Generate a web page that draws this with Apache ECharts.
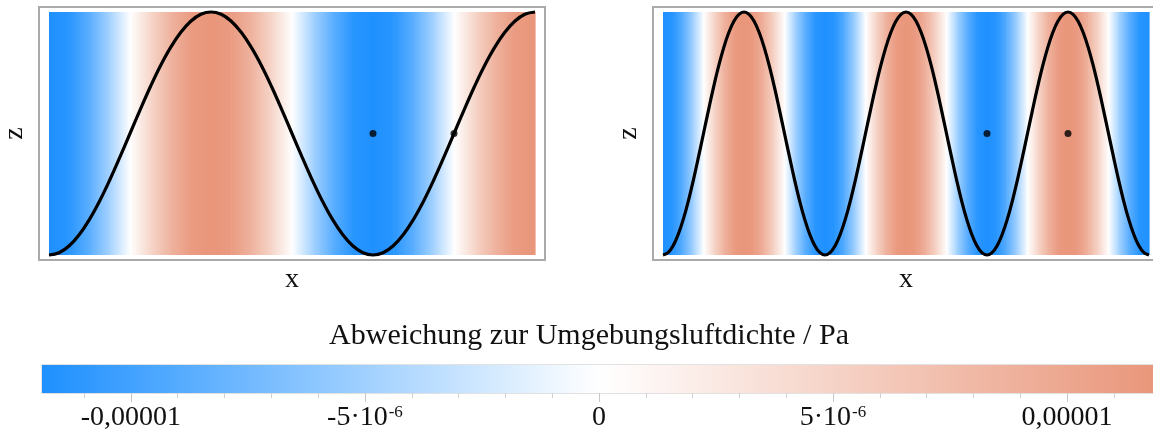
<!DOCTYPE html>
<html>
<head>
<meta charset="utf-8">
<script src="https://cdn.jsdelivr.net/npm/echarts@6/dist/echarts.min.js"></script>
<style>
  html, body { margin: 0; padding: 0; background: #fff; }
  #chart { width: 1153px; height: 435px; }
</style>
</head>
<body>
<div id="chart"></div>
<script>
// ---------------- DATA ----------------
// x is measured in wavelengths
const curveStep = 1 / 32;   // spacing of curve samples
const fieldStep = 1 / 16;   // spacing of density samples

// Left panel: displacement curve (normalised z)
const curveLeft = [-1, -0.981, -0.924, -0.831, -0.707, -0.556, -0.383, -0.195, 0, 0.195, 0.383, 0.556, 0.707, 0.831, 0.924, 0.981,
  1, 0.981, 0.924, 0.831, 0.707, 0.556, 0.383, 0.195, 0, -0.195, -0.383, -0.556, -0.707, -0.831, -0.924, -0.981,
  -1, -0.981, -0.924, -0.831, -0.707, -0.556, -0.383, -0.195, 0, 0.195, 0.383, 0.556, 0.707, 0.831, 0.924, 0.981, 1];
// Left panel: air density deviation (x 1e-6 Pa)
const fieldLeft = [-12.2, -11.3, -8.6, -4.7, 0, 4.7, 8.6, 11.3, 12.2, 11.3, 8.6, 4.7, 0,
  -4.7, -8.6, -11.3, -12.2, -11.3, -8.6, -4.7, 0, 4.7, 8.6, 11.3, 12.2];
const dotsLeft = [[1, 0], [1.25, 0]];

// Right panel
const curveRight = [-1, -0.981, -0.924, -0.831, -0.707, -0.556, -0.383, -0.195, 0, 0.195, 0.383, 0.556, 0.707, 0.831, 0.924, 0.981,
  1, 0.981, 0.924, 0.831, 0.707, 0.556, 0.383, 0.195, 0, -0.195, -0.383, -0.556, -0.707, -0.831, -0.924, -0.981,
  -1, -0.981, -0.924, -0.831, -0.707, -0.556, -0.383, -0.195, 0, 0.195, 0.383, 0.556, 0.707, 0.831, 0.924, 0.981,
  1, 0.981, 0.924, 0.831, 0.707, 0.556, 0.383, 0.195, 0, -0.195, -0.383, -0.556, -0.707, -0.831, -0.924, -0.981,
  -1, -0.981, -0.924, -0.831, -0.707, -0.556, -0.383, -0.195, 0, 0.195, 0.383, 0.556, 0.707, 0.831, 0.924, 0.981,
  1, 0.981, 0.924, 0.831, 0.707, 0.556, 0.383, 0.195, 0, -0.195, -0.383, -0.556, -0.707, -0.831, -0.924, -0.981, -1];
const fieldRight = [-12.2, -11.3, -8.6, -4.7, 0, 4.7, 8.6, 11.3, 12.2, 11.3, 8.6, 4.7, 0, -4.7, -8.6, -11.3,
  -12.2, -11.3, -8.6, -4.7, 0, 4.7, 8.6, 11.3, 12.2, 11.3, 8.6, 4.7, 0, -4.7, -8.6, -11.3,
  -12.2, -11.3, -8.6, -4.7, 0, 4.7, 8.6, 11.3, 12.2, 11.3, 8.6, 4.7, 0, -4.7, -8.6, -11.3, -12.2];
const dotsRight = [[2, 0], [2.5, 0]];

// Colour bar (values in 1e-6 Pa)
const colorMin = -11.9;
const colorMax = 11.9;
const majorTicks = [-10, -5, 0, 5, 10];
const majorTickBase = ['-0,00001', '-5·10', '0', '5·10', '0,00001'];
const majorTickExp = ['', '-6', '', '-6', ''];
const minorTicks = [-11, -9, -8, -7, -6, -4, -3, -2, -1, 1, 2, 3, 4, 6, 7, 8, 9, 11];
const colorbarTitle = 'Abweichung zur Umgebungsluftdichte / Pa';

// ---------------- STYLE / HELPERS ----------------
const colorStops = [
  { v: colorMin, c: [30, 144, 255] },
  { v: 0, c: [255, 255, 255] },
  { v: colorMax, c: [233, 150, 122] }
];
function colorOf(v) {
  v = Math.max(colorMin, Math.min(colorMax, v));
  for (let i = 0; i < colorStops.length - 1; i++) {
    const a = colorStops[i], b = colorStops[i + 1];
    if (v <= b.v) {
      const t = (v - a.v) / (b.v - a.v);
      const c = a.c.map((ca, k) => Math.round(ca + (b.c[k] - ca) * t));
      return 'rgb(' + c.join(',') + ')';
    }
  }
  return 'rgb(' + colorStops[colorStops.length - 1].c.join(',') + ')';
}

function lineData(vals, step) { return vals.map((v, i) => [i * step, v]); }
function segData(vals, step) {
  const out = [];
  for (let i = 0; i < vals.length - 1; i++) out.push([i * step, (i + 1) * step, vals[i], vals[i + 1]]);
  return out;
}
function stripRender(yTop, yBot) {
  return function (params, api) {
    const p0 = api.coord([api.value(0), yTop]);
    const p1 = api.coord([api.value(1), yBot]);
    return {
      type: 'rect',
      shape: { x: p0[0], y: p0[1], width: p1[0] - p0[0] + 0.6, height: p1[1] - p0[1] },
      style: {
        fill: new echarts.graphic.LinearGradient(0, 0, 1, 0, [
          { offset: 0, color: colorOf(api.value(2)) },
          { offset: 1, color: colorOf(api.value(3)) }
        ])
      }
    };
  };
}

const serif = 'Liberation Serif';
const txt = { fontFamily: serif, fontSize: 28, color: '#111' };

// layout: plotted region 486 x 243 px inside a 506 x 253 frame
const padX = 10, padY = 5, innerW = 486, innerH = 243;
const leftSpan = 1.5, rightSpan = 3;
const xPadL = padX / innerW * leftSpan, xPadR = padX / innerW * rightSpan;
const yPad = padY / innerH * 2;

function panelX(grid, span, pad) {
  return {
    type: 'value', gridIndex: grid, min: -pad, max: span + pad,
    name: 'x', nameLocation: 'middle', nameGap: 6, nameTextStyle: txt,
    axisLine: { show: false }, axisTick: { show: false }, axisLabel: { show: false }, splitLine: { show: false }
  };
}
function panelY(grid) {
  return {
    type: 'value', gridIndex: grid, min: -1 - yPad, max: 1 + yPad,
    name: 'z', nameLocation: 'middle', nameGap: 10, nameTextStyle: txt,
    axisLine: { show: false }, axisTick: { show: false }, axisLabel: { show: false }, splitLine: { show: false }
  };
}

const chart = echarts.init(document.getElementById('chart'), null, { renderer: 'canvas' });
chart.setOption({
  animation: false,
  title: {
    text: colorbarTitle, left: 584, top: 316, textAlign: 'center',
    textStyle: { fontFamily: serif, fontSize: 30, fontWeight: 'normal', color: '#111' }
  },
  grid: [
    { left: 39, top: 7, width: 506, height: 253, show: true, borderColor: '#aaaaaa', borderWidth: 2,
      containLabel: false, outerBoundsMode: 'none' },
    { left: 653, top: 7, width: 506, height: 253, show: true, borderColor: '#aaaaaa', borderWidth: 2,
      containLabel: false, outerBoundsMode: 'none' },
    { left: 42, top: 365, width: 1114, height: 28, show: true, borderColor: '#c4c4c4', borderWidth: 1,
      containLabel: false, outerBoundsMode: 'none' }
  ],
  xAxis: [
    panelX(0, leftSpan, xPadL),
    panelX(1, rightSpan, xPadR),
    {
      type: 'value', gridIndex: 2, min: colorMin, max: colorMax, position: 'bottom',
      axisLine: { show: false }, splitLine: { show: false },
      axisTick: { show: true, customValues: majorTicks, length: 9, lineStyle: { color: '#c8c8c8', width: 1 } },
      axisLabel: {
        show: true, customValues: majorTicks, margin: 11,
        fontFamily: serif, fontSize: 28, color: '#111',
        formatter: function (v) {
          const i = majorTicks.findIndex(t => Math.abs(t - v) < 1e-9);
          if (i < 0) return '';
          return '{n|' + majorTickBase[i] + '}' + (majorTickExp[i] ? '{s|' + majorTickExp[i] + '}' : '');
        },
        rich: {
          n: { fontFamily: serif, fontSize: 28, color: '#111' },
          s: { fontFamily: serif, fontSize: 17, color: '#111', verticalAlign: 'top', padding: [0, 0, 2, 1] }
        }
      }
    },
    {
      type: 'value', gridIndex: 2, min: colorMin, max: colorMax, position: 'bottom',
      axisLine: { show: false }, splitLine: { show: false }, axisLabel: { show: false },
      axisTick: { show: true, customValues: minorTicks, length: 5, lineStyle: { color: '#d0d0d0', width: 1 } }
    }
  ],
  yAxis: [
    panelY(0),
    panelY(1),
    { type: 'value', gridIndex: 2, min: 0, max: 1, show: false }
  ],
  series: [
    { type: 'custom', xAxisIndex: 0, yAxisIndex: 0, renderItem: stripRender(1, -1), data: segData(fieldLeft, fieldStep), z: 1, silent: true },
    { type: 'line', xAxisIndex: 0, yAxisIndex: 0, data: lineData(curveLeft, curveStep), smooth: 0.4, showSymbol: false,
      lineStyle: { color: '#000', width: 3.2 }, z: 2 },
    { type: 'scatter', xAxisIndex: 0, yAxisIndex: 0, data: dotsLeft, symbolSize: 7, itemStyle: { color: '#000' }, z: 3 },

    { type: 'custom', xAxisIndex: 1, yAxisIndex: 1, renderItem: stripRender(1, -1), data: segData(fieldRight, fieldStep), z: 1, silent: true },
    { type: 'line', xAxisIndex: 1, yAxisIndex: 1, data: lineData(curveRight, curveStep), smooth: 0.4, showSymbol: false,
      lineStyle: { color: '#000', width: 3.2 }, z: 2 },
    { type: 'scatter', xAxisIndex: 1, yAxisIndex: 1, data: dotsRight, symbolSize: 7, itemStyle: { color: '#000' }, z: 3 },

    { type: 'custom', xAxisIndex: 2, yAxisIndex: 2, renderItem: stripRender(1, 0),
      data: colorStops.slice(0, -1).map((s, i) => [s.v, colorStops[i + 1].v, s.v, colorStops[i + 1].v]), z: 1, silent: true }
  ]
});
</script>
</body>
</html>
